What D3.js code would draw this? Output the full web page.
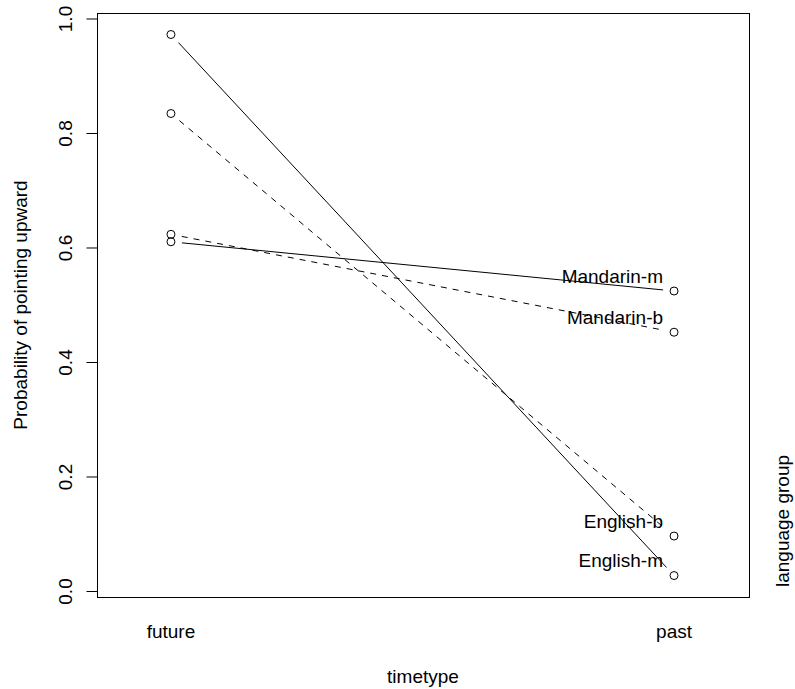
<!DOCTYPE html>
<html>
<head>
<meta charset="utf-8">
<script src="https://cdn.jsdelivr.net/npm/d3@7"></script>
<style>
  html, body { margin: 0; padding: 0; background: #fff; }
  svg { display: block; }
  text { font-family: "Liberation Sans", Arial, Helvetica, sans-serif; fill: #000; }
</style>
</head>
<body>
<script>
// Time types on the x axis
const timeTypes = ["future", "past"];
// Language groups (one line each) and their line style
const groups = ["English-m", "English-b", "Mandarin-b", "Mandarin-m"];
const groupDashed = [false, true, true, false];
// Mean probability of pointing upward, per group, for future and past
const futureValues = [0.972, 0.834, 0.623, 0.610];
const pastValues = [0.027, 0.096, 0.452, 0.524];
// Y axis ticks
const yTicks = [0, 0.2, 0.4, 0.6, 0.8, 1.0];

const W = 795, H = 689;
const box = { left: 97, right: 749, top: 13, bottom: 597 };
const fontSize = 19;

const svg = d3.select("body").append("svg")
  .attr("width", W).attr("height", H);

const x = d3.scaleLinear().domain([0.853, 2.149]).range([box.left, box.right]);
const y = d3.scaleLinear().domain([-0.0105, 1.0096]).range([box.bottom, box.top]);

// plot frame
svg.append("rect")
  .attr("x", box.left + 0.5).attr("y", box.top + 0.5)
  .attr("width", box.right - box.left).attr("height", box.bottom - box.top)
  .attr("fill", "none").attr("stroke", "#000").attr("stroke-width", 1);

// y axis with rotated labels
const yAxis = d3.axisLeft(y).tickValues(yTicks).tickFormat(d3.format(".1f"))
  .tickSize(11).tickPadding(0);
const gy = svg.append("g").attr("transform", `translate(${box.left + 0.5},0)`).call(yAxis);
gy.select(".domain").attr("d", `M0,${y(0)}V${y(1)}`).attr("stroke", "#000");
gy.selectAll(".tick line").attr("stroke", "#000");
gy.selectAll(".tick text")
  .attr("x", null).attr("dy", null)
  .attr("transform", "translate(-26,0) rotate(-90)")
  .attr("text-anchor", "middle")
  .attr("fill", "#000")
  .style("font-size", fontSize + "px")
  .style("font-family", '"Liberation Sans", Arial, Helvetica, sans-serif');

// x category labels (no tick marks)
svg.selectAll("text.xcat").data(timeTypes).enter().append("text")
  .attr("class", "xcat")
  .attr("x", (d, i) => x(i + 1))
  .attr("y", 638)
  .attr("text-anchor", "middle")
  .style("font-size", fontSize + "px")
  .text(d => d);

// axis titles
svg.append("text")
  .attr("x", (box.left + box.right) / 2).attr("y", 683)
  .attr("text-anchor", "middle").style("font-size", fontSize + "px")
  .text("timetype");

svg.append("text")
  .attr("transform", `translate(27,${(box.top + box.bottom) / 2}) rotate(-90)`)
  .attr("text-anchor", "middle").style("font-size", fontSize + "px")
  .text("Probability of pointing upward");

svg.append("text")
  .attr("transform", `translate(789,521) rotate(-90)`)
  .attr("text-anchor", "middle").style("font-size", fontSize + "px")
  .text("language group");

// one line per group, with gaps around the points
const gap = 11;
const series = groups.map((g, i) => ({
  name: g,
  dashed: groupDashed[i],
  pts: [[x(1), y(futureValues[i])], [x(2), y(pastValues[i])]]
}));

const lines = svg.append("g");
series.forEach(s => {
  const [p0, p1] = s.pts;
  const dx = p1[0] - p0[0], dy = p1[1] - p0[1];
  const len = Math.hypot(dx, dy);
  const ux = dx / len, uy = dy / len;
  lines.append("line")
    .attr("x1", p0[0] + ux * gap).attr("y1", p0[1] + uy * gap)
    .attr("x2", p1[0] - ux * gap).attr("y2", p1[1] - uy * gap)
    .attr("stroke", "#000").attr("stroke-width", 1)
    .attr("stroke-dasharray", s.dashed ? "6,6" : null);
});

// open circle markers
const pts = svg.append("g");
series.forEach(s => {
  s.pts.forEach(p => {
    pts.append("circle")
      .attr("cx", p[0]).attr("cy", p[1]).attr("r", 4)
      .attr("fill", "none").attr("stroke", "#000").attr("stroke-width", 1);
  });
});

// group labels beside the past points
svg.selectAll("text.glabel").data(series).enter().append("text")
  .attr("class", "glabel")
  .attr("x", d => d.pts[1][0] - 11)
  .attr("y", d => d.pts[1][1] - 15)
  .attr("dy", "0.35em")
  .attr("text-anchor", "end")
  .style("font-size", fontSize + "px")
  .text(d => d.name);
</script>
</body>
</html>
